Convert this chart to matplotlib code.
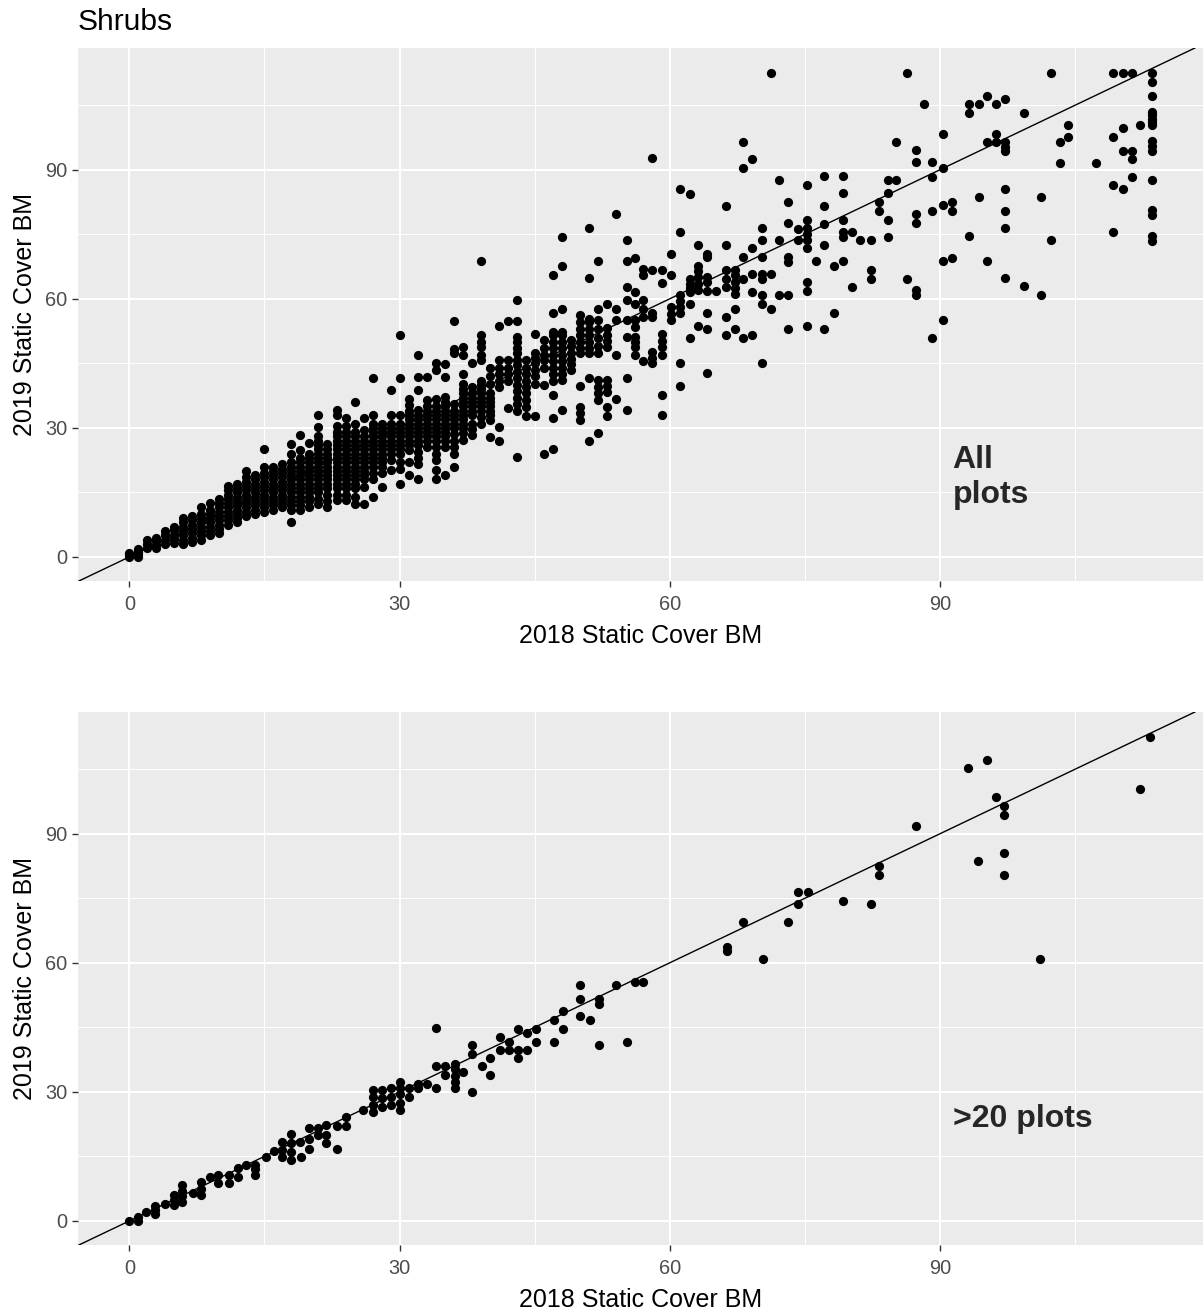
import matplotlib
matplotlib.use("Agg")
import matplotlib.pyplot as plt
import numpy as np

plt.rcParams['font.family'] = ['Liberation Sans', 'DejaVu Sans']

# ---------------- "All plots" panel: 2018 value -> list of 2019 values ----------------
all_cols_a = {
    0: [0, 0.5, 1.0],
    1: [0, 0.6, 1.2, 1.8],
    2: [2.0, 3.0, 4.0],
    3: [2.0, 2.8, 3.6, 4.4],
    4: [3.0, 4.0, 5.0, 6.0],
    5: [3.2, 4.2, 5.2, 6.2, 7.0],
    6: [3.0, 4.0, 5.0, 6.0, 7.0, 8.0, 9.0],
    7: [3.5, 4.5, 5.5, 6.5, 7.5, 8.5, 9.5],
    8: [4.0, 5.0, 6.0, 7.0, 8.0, 9.0, 10.0, 11.5],
    9: [5.0, 6.0, 7.0, 8.0, 9.0, 10.0, 11.0, 12.5],
    10: [5.5, 6.5, 7.5, 8.5, 9.5, 10.5, 11.5, 12.5, 13.5],
    11: [7.5, 8.5, 9.5, 10.5, 11.5, 12.5, 13.5, 14.5, 15.5, 16.5],
    12: [8.0, 9.0, 10.0, 11.0, 12.0, 13.0, 14.0, 15.0, 16.0, 17.0],
    13: [9.5, 10.5, 11.5, 12.5, 13.5, 14.5, 15.5, 16.5, 17.5, 18.5, 20.0],
    14: [10.0, 11.0, 12.0, 13.0, 14.0, 15.0, 16.0, 17.0, 18.0, 19.0],
    15: [10.5, 11.5, 12.5, 13.5, 14.5, 15.5, 16.5, 17.5, 18.5, 19.5, 20.8, 25.0],
    16: [11.0, 12.0, 13.0, 14.0, 15.0, 16.0, 17.0, 18.0, 19.0, 20.0, 21.0],
    17: [11.5, 12.5, 13.5, 14.5, 15.5, 16.5, 17.5, 18.5, 19.5, 20.5, 21.7],
    18: [8.1, 10.8, 12.0, 13.0, 14.0, 15.0, 16.0, 17.0, 18.0, 19.0, 20.0, 21.0, 22.0, 24.0, 26.3],
    19: [10.8, 12.0, 13.0, 14.0, 15.0, 16.0, 17.0, 18.0, 19.0, 20.0, 21.0, 22.0, 23.0, 24.8, 28.3],
    20: [11.6, 13.0, 14.0, 15.0, 16.0, 17.0, 18.0, 19.0, 20.0, 21.0, 22.0, 23.0, 24.0, 26.4],
    21: [12.4, 13.5, 15.0, 16.0, 17.0, 18.0, 19.0, 20.0, 21.0, 22.0, 23.0, 24.0, 25.0, 26.0, 27.0,
         28.0, 30.2, 32.9],
    22: [11.6, 13.0, 14.5, 16.0, 17.0, 18.0, 19.0, 20.0, 21.0, 22.0, 23.0, 24.0, 25.0, 26.3],
}

all_cols_b = {
    23: [13.2, 14.5, 16.0, 17.0, 18.0, 19.0, 20.0, 21.0, 22.0, 23.0, 24.0, 25.0, 26.0, 27.0, 28.0,
         29.0, 30.5, 33.0, 34.1],
    24: [13.2, 14.5, 16.0, 17.0, 18.0, 19.0, 20.0, 21.0, 22.0, 23.0, 24.0, 25.0, 26.0, 27.0, 28.0,
         29.0, 30.5, 32.2],
    25: [12.2, 14.0, 16.0, 17.0, 18.0, 19.0, 20.0, 21.0, 22.0, 23.0, 24.0, 25.0, 26.0, 27.0, 28.0,
         29.0, 31.0, 36.0],
    26: [12.2, 16.2, 18.0, 19.0, 20.0, 21.0, 22.0, 23.0, 24.0, 25.0, 26.0, 27.0, 28.0, 29.4, 32.2],
    27: [13.9, 18.2, 19.5, 21.0, 22.0, 23.0, 24.0, 25.0, 26.0, 27.0, 28.0, 29.0, 30.0, 31.0, 33.1, 41.7],
    28: [16.3, 19.4, 21.0, 22.0, 23.0, 24.0, 25.0, 26.0, 27.0, 28.0, 29.0, 30.0, 31.0],
    29: [20.3, 22.5, 24.0, 25.0, 26.0, 27.0, 28.0, 29.0, 30.0, 31.0, 32.9, 38.9],
    30: [17.0, 20.5, 22.0, 24.0, 25.0, 26.0, 27.0, 28.0, 29.0, 30.0, 31.0, 32.9, 41.7, 51.7],
    31: [19.0, 22.0, 24.8, 26.0, 27.0, 28.0, 29.0, 30.0, 31.0, 32.0, 33.0, 34.0, 35.3, 36.8],
    32: [18.2, 21.7, 23.0, 24.5, 26.0, 27.0, 28.0, 29.0, 30.0, 31.0, 32.0, 33.0, 34.1, 38.8, 41.8, 46.9],
    33: [25.6, 27.0, 28.0, 29.0, 30.0, 31.0, 32.0, 33.0, 34.0, 35.0, 36.4, 41.8],
    34: [18.2, 20.2, 22.5, 24.0, 25.5, 27.0, 28.0, 29.0, 30.0, 31.0, 32.0, 33.0, 34.0, 35.0, 36.8,
         43.4, 45.0],
    35: [19.0, 25.6, 27.0, 28.0, 29.0, 30.0, 31.0, 32.0, 33.0, 34.0, 35.0, 36.0, 37.2, 41.8, 44.8],
    36: [20.9, 24.0, 25.5, 27.0, 28.5, 30.0, 31.0, 32.0, 33.0, 34.0, 35.6, 47.4, 48.3, 54.9],
    37: [27.1, 28.7, 30.0, 31.0, 32.0, 33.0, 34.0, 35.0, 36.0, 37.0, 38.0, 39.0, 40.3, 42.6, 46.9, 48.8],
    38: [28.3, 29.8, 31.0, 33.0, 34.0, 35.0, 36.0, 37.0, 38.0, 39.5, 45.0],
    39: [31.0, 32.5, 34.0, 35.0, 36.0, 37.0, 38.0, 39.0, 40.0, 41.0, 45.7, 47.0, 48.8, 50.0, 51.5, 68.8],
    40: [27.9, 31.8, 33.0, 34.0, 35.0, 36.0, 37.0, 38.0, 40.3, 42.0, 44.0],
}

all_cols_c = {
    41: [27.0, 30.2, 39.5, 41.0, 42.5, 44.0, 45.7, 53.6],
    42: [34.5, 41.0, 42.5, 44.0, 45.7, 54.9],
    43: [23.2, 34.0, 35.5, 37.0, 38.5, 40.0, 41.5, 43.0, 44.5, 45.7, 47.3, 48.5, 50.0, 51.1, 54.9, 59.7],
    44: [32.7, 34.9, 36.5, 38.0, 39.5, 41.0, 42.5, 44.0, 45.7],
    45: [32.8, 40.3, 42.0, 43.5, 45.0, 46.3, 47.3, 51.8],
    46: [24.0, 39.9, 43.8, 45.7, 47.0, 48.5, 50.4],
    47: [25.0, 32.2, 37.6, 41.0, 42.5, 44.0, 45.5, 47.0, 48.5, 50.0, 51.5, 52.3, 56.7, 65.6],
    48: [34.1, 41.1, 42.5, 44.0, 45.5, 47.0, 48.5, 50.0, 51.5, 52.3, 57.7, 67.6, 74.4],
    49: [43.4, 44.8, 46.0, 47.5, 49.0, 50.4],
    50: [31.9, 33.4, 34.9, 39.7, 47.3, 48.5, 50.0, 51.5, 53.0, 54.5, 56.2],
    51: [26.9, 41.7, 47.3, 48.5, 50.0, 51.5, 53.0, 54.5, 55.4, 64.9, 76.5],
    52: [28.8, 36.4, 38.0, 39.5, 41.1, 47.3, 49.0, 51.0, 53.0, 55.0, 57.7, 68.8],
    53: [32.8, 34.9, 38.4, 39.7, 41.1, 48.8, 50.2, 51.6, 53.1, 58.7],
    54: [36.8, 46.9, 55.0, 57.7, 79.7],
}

all_cols_d = {
    55.2: [34.1, 41.7, 51.1, 55.0, 59.7, 62.8, 68.8, 73.6],
    56.1: [46.9, 48.8, 50.0, 51.1, 53.5, 55.0, 58.9, 61.6, 69.6],
    57.0: [45.6, 55.8, 57.7, 59.7, 65.6, 67.0],
    58.0: [45.0, 46.3, 47.7, 55.8, 56.8, 66.8, 92.7],
    59.1: [32.9, 37.7, 46.9, 48.8, 50.3, 51.9, 63.7, 66.8],
    60.1: [55.0, 56.5, 58.1, 65.6, 70.5],
    61.1: [39.7, 45.0, 56.6, 58.0, 59.4, 60.8, 75.6, 85.6],
    62.2: [50.9, 58.8, 61.5, 62.5, 63.5, 64.5, 84.4],
    63.1: [53.6, 62.0, 63.5, 65.0, 66.5, 67.7, 72.5],
    64.1: [42.8, 52.9, 56.8, 61.8, 63.9, 65.0, 69.8, 70.5],
}

all_cols_e = {
    65.1: [61.8],
    66.2: [51.5, 55.7, 62.8, 64.5, 66.8, 72.5, 81.6],
    67.2: [52.9, 57.7, 61.2, 62.5, 64.0, 65.5, 66.8],
    68.1: [50.9, 64.7, 69.8, 90.5, 96.5],
    69.1: [51.5, 61.6, 65.7, 71.7, 92.5],
    70.2: [45.0, 58.9, 60.8, 64.7, 65.7, 69.8, 73.6, 76.5],
    71.2: [57.7, 65.7, 112.4],
    72.1: [60.8, 73.6, 87.7],
    73.1: [52.9, 60.8, 68.6, 69.8, 77.7, 82.4],
    74.2: [73.6, 76.3],
    75.2: [53.7, 61.8, 63.9, 71.7, 73.6, 75.0, 76.5, 78.4, 86.4],
    76.2: [68.8],
    77.1: [52.9, 72.5, 77.5, 81.6, 88.5],
    78.2: [56.8, 67.7],
    79.2: [68.8, 74.4, 75.6, 78.4, 84.5, 88.5],
    80.2: [62.8, 75.6],
    81.1: [73.6],
    82.3: [64.7, 66.8, 73.6],
    83.2: [80.5, 82.5],
    84.2: [74.4, 78.4, 84.5, 87.7],
    85.1: [87.7, 96.5],
    86.3: [64.7, 112.4],
    87.3: [60.8, 62.0, 77.7, 79.7, 91.7, 94.6],
    88.2: [105.3],
    89.1: [50.9, 80.5, 88.4, 91.7],
    90.3: [55.0, 68.8, 81.8, 90.5, 98.4],
    91.3: [69.6, 80.4, 82.5],
    93.2: [74.5, 103.2, 105.3],
    94.3: [83.6, 105.3],
    95.2: [68.8, 96.4, 107.2],
    96.2: [96.4, 98.4, 105.3],
    97.2: [64.8, 76.4, 80.4, 85.6, 94.4, 95.4, 96.4, 106.4],
    99.3: [62.9, 103.2],
    101.2: [60.9, 83.6],
    102.3: [73.7, 112.5],
    103.3: [91.5, 96.4],
    104.2: [97.6, 100.4],
    107.3: [91.5],
    109.2: [75.6, 86.5, 97.6, 112.5],
    110.3: [85.6, 94.4, 99.7, 112.5],
    111.3: [88.4, 92.5, 94.4, 112.5],
    112.2: [100.4],
    113.5: [73.5, 74.5, 79.5, 80.7, 87.7, 94.4, 95.5, 96.6, 100.3, 101.1, 101.9, 102.7, 103.5,
            107.2, 110.4, 112.5],
}

# ---------------- ">20 plots" panel ----------------
sub_x = [0, 1, 1, 1.9, 2.8, 2.8, 2.8, 4, 5, 5, 5, 5.9, 5.9, 5.9, 5.9,
         7.1, 8, 8, 8, 8.9, 9.8, 9.8, 11.1, 11.1, 12.1, 12.1, 13, 13.9, 13.9, 13.9,
         15.2, 16.1, 16.9, 16.9, 16.9, 17.9, 17.9, 17.9, 17.9, 18.9, 19.1, 20, 20, 20,
         20.9, 20.9, 21.8, 21.8, 21.8, 23.1, 23.1, 24.1, 24.1, 25.9, 27, 27, 27, 27,
         28, 28, 28, 29.1, 29.1, 29.1, 30, 30, 30, 30, 30, 31.1, 31.1, 32, 32, 33,
         34, 34, 34, 35, 35, 36.1, 36.1, 36.1, 36.1, 36.1, 37, 38, 38, 38, 39.1, 40, 40,
         41.1, 41.1, 42.1, 42.1, 43.2, 43.2, 43.2, 44.1, 44.1, 45.1, 45.1, 47.2, 47.2,
         48.1, 48.1, 50, 50, 50, 51.1, 52.1, 52.1, 52.1, 54, 55.2, 56.1, 57,
         66.3, 66.3, 68.1, 70.3, 73.1, 74.2, 74.2, 75.3, 79.2, 82.3, 83.2, 83.2, 87.3,
         93.1, 95.2, 96.2, 97.1, 97.1, 94.2, 97.1, 97.1, 101.1, 112.2, 113.3]
sub_y = [0, 1, 0, 2.1, 1.7, 2.6, 3.5, 4, 3.6, 4.8, 6, 4.4, 5.7, 7, 8.3,
         6.4, 6, 7.5, 9.1, 10.2, 8.7, 10.6, 8.7, 10.6, 10.2, 12.2, 12.9, 10.6, 12, 12.9,
         14.9, 16.2, 14.9, 16.5, 18.4, 14.1, 16, 18, 20.3, 18.4, 14.9, 16.8, 19, 21.5,
         19.9, 21.5, 18, 20, 22.3, 16.8, 22, 22, 24.2, 25.7, 25.4, 27, 28.7, 30.4,
         26.5, 28.5, 30.4, 26.9, 28.8, 30.8, 25.7, 27.5, 29.5, 31, 32.3, 28.8, 30.8, 30.8, 31.9, 31.9,
         44.9, 36, 30.9, 34, 36, 30.8, 32.3, 33.8, 35.2, 36.5, 34.6, 38.9, 41, 30, 36, 37.8, 34,
         42.8, 39.7, 39.7, 41.6, 44.7, 37.8, 39.7, 43.6, 39.7, 44.7, 41.6, 46.7, 41.6,
         48.8, 44.7, 54.8, 51.5, 47.6, 46.8, 50.5, 51.7, 40.9, 54.8, 41.6, 55.6, 55.6,
         62.7, 63.6, 69.6, 60.9, 69.6, 76.4, 73.6, 76.4, 74.4, 73.6, 80.5, 82.5, 91.7,
         105.3, 107.2, 98.5, 94.4, 96.4, 83.7, 85.6, 80.5, 60.9, 100.5, 112.5]

x_ticks = [0, 30, 60, 90]
y_ticks = [0, 30, 60, 90]
x_label = "2018 Static Cover BM"
y_label = "2019 Static Cover BM"
title = "Shrubs"
notes = ["All\nplots", ">20 plots"]


def flatten(*dicts):
    xs, ys = [], []
    for d in dicts:
        for x, yl in d.items():
            xs.extend([x] * len(yl))
            ys.extend(yl)
    return np.array(xs, float), np.array(ys, float)


all_x, all_y = flatten(all_cols_a, all_cols_b, all_cols_c, all_cols_d, all_cols_e)

W, H = 1203, 1315
fig = plt.figure(figsize=(W / 100, H / 100), dpi=100)


def axes_px(l, t, r, b):
    return fig.add_axes([l / W, 1 - b / H, (r - l) / W, (b - t) / H])


def style(ax):
    ax.set_facecolor('#EBEBEB')
    for s in ax.spines.values():
        s.set_visible(False)
    ax.set_xlim(-5.7, 119.2)
    ax.set_ylim(-5.6, 118.3)
    ax.set_xticks(x_ticks)
    ax.set_yticks(y_ticks)
    ax.set_xticks([15, 45, 75, 105], minor=True)
    ax.set_yticks([15, 45, 75, 105], minor=True)
    ax.set_axisbelow(True)
    ax.grid(which='major', color='white', lw=1.5)
    ax.grid(which='minor', color='white', lw=0.75)
    ax.tick_params(which='major', length=4.5, width=1.0, color='#333333',
                   labelsize=14.4, labelcolor='#4D4D4D', pad=3)
    ax.tick_params(axis='x', which='major', pad=5.5)
    ax.tick_params(which='minor', length=0)
    ax.set_xlabel(x_label, fontsize=18, color='black', labelpad=7)
    ax.set_ylabel(y_label, fontsize=18, color='black', labelpad=6)
    ax.axline((0, 0), slope=1, color='black', lw=1.0, zorder=2)


ax1 = axes_px(78, 48, 1203, 581)
style(ax1)
ax1.scatter(all_x, all_y, s=44, color='black', linewidths=0, zorder=3)
ax1.text(91.4, 18.5, notes[0], fontsize=23, fontweight='bold', color='#262626',
         ha='left', va='center', linespacing=1.22)

ax2 = axes_px(78, 712, 1203, 1245)
style(ax2)
ax2.scatter(sub_x, sub_y, s=44, color='black', linewidths=0, zorder=3)
ax2.text(91.4, 23.7, notes[1], fontsize=23, fontweight='bold', color='#262626',
         ha='left', va='center')

fig.text(78 / W, 1 - 22 / H, title, fontsize=21.6, ha='left', va='center', color='black')

fig.savefig('out.png', dpi=100)
